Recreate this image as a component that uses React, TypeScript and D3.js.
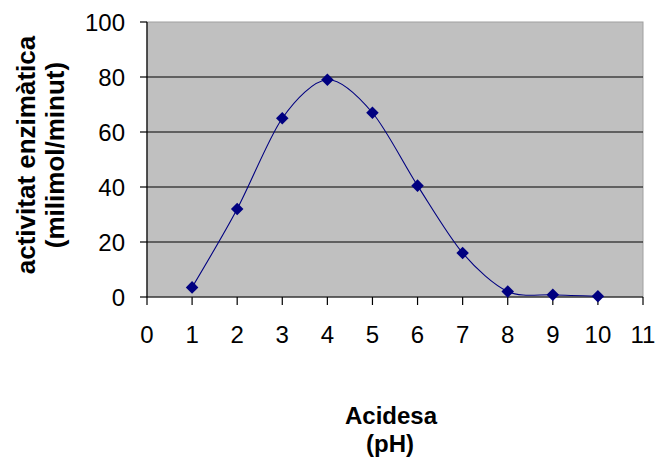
import React from "react";
import * as d3 from "d3";

const phValues = [1, 2, 3, 4, 5, 6, 7, 8, 9, 10];
const activity = [3.5, 32, 65, 79, 67, 40.5, 16, 2, 0.8, 0.3];
const xTicks = [0, 1, 2, 3, 4, 5, 6, 7, 8, 9, 10, 11];
const yTicks = [0, 20, 40, 60, 80, 100];
const yTitle = ["activitat enzimàtica", "(milimol/minut)"];
const xTitle = ["Acidesa", "(pH)"];

export default function App() {
  const W = 656, H = 463;
  const left = 147, right = 643, top = 22, bottom = 297;
  const x = d3.scaleLinear().domain([0, 11]).range([left, right]);
  const y = d3.scaleLinear().domain([0, 100]).range([bottom, top]);
  const pts = phValues.map((p, i) => [x(p), y(activity[i])] as [number, number]);
  const line = d3.line().curve(d3.curveCardinal.tension(0.1))(pts) || "";
  const diamond = d3.symbol().type(d3.symbolDiamond2).size(100)() || "";
  const font = "'Liberation Sans', Arial, sans-serif";
  return (
    <svg width={W} height={H} style={{ position: "absolute", left: 0, top: 0 }}>
      <rect x={0} y={0} width={W} height={H} fill="#fff" />
      <rect x={left} y={top} width={right - left} height={bottom - top} fill="#c0c0c0" stroke="#a0a0a0" strokeWidth={1} />
      {yTicks.filter(t => t > 0 && t < 100).map(t => (
        <line key={t} x1={left} x2={right} y1={y(t)} y2={y(t)} stroke="#000" strokeWidth={1.2} />
      ))}
      <line x1={left} x2={left} y1={top} y2={bottom} stroke="#000" strokeWidth={1.2} />
      <line x1={left} x2={right} y1={bottom} y2={bottom} stroke="#000" strokeWidth={1.2} />
      {yTicks.map(t => (
        <g key={t}>
          <line x1={left - 7} x2={left} y1={y(t)} y2={y(t)} stroke="#000" strokeWidth={1.2} />
          <text x={125} y={y(t) + 8.5} textAnchor="end" fontFamily={font} fontSize={24} fill="#000">{t}</text>
        </g>
      ))}
      {xTicks.map(t => (
        <g key={t}>
          <line x1={x(t)} x2={x(t)} y1={bottom} y2={bottom + 8} stroke="#000" strokeWidth={1.2} />
          <text x={x(t)} y={bottom + 46} textAnchor="middle" fontFamily={font} fontSize={24} fill="#000">{t}</text>
        </g>
      ))}
      <path d={line} fill="none" stroke="#000080" strokeWidth={1.1} />
      {pts.map((p, i) => (
        <path key={i} d={diamond} transform={`translate(${p[0]},${p[1]})`} fill="#000080" />
      ))}
      <g transform="translate(35,155) rotate(-90)">
        <text x={0} y={0} textAnchor="middle" fontFamily={font} fontWeight="bold" fontSize={26} fill="#000">{yTitle[0]}</text>
        <text x={0} y={29} textAnchor="middle" fontFamily={font} fontWeight="bold" fontSize={26} fill="#000">{yTitle[1]}</text>
      </g>
      <text x={391} y={424} textAnchor="middle" fontFamily={font} fontWeight="bold" fontSize={24} fill="#000">{xTitle[0]}</text>
      <text x={390} y={452} textAnchor="middle" fontFamily={font} fontWeight="bold" fontSize={24} fill="#000">{xTitle[1]}</text>
    </svg>
  );
}
